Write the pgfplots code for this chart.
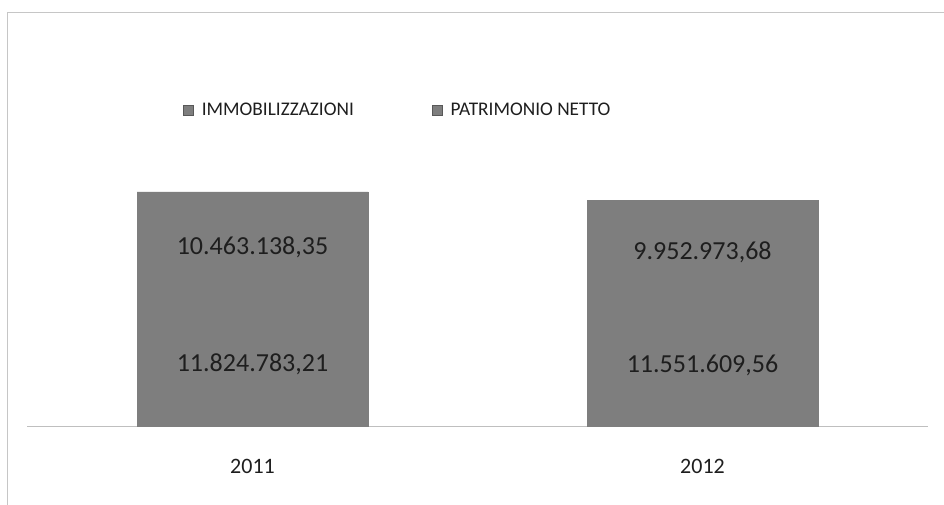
\documentclass[border=0pt]{standalone}
\usepackage{pgfplots}
\pgfplotsset{compat=1.18}
\usepackage{fontspec}
\setmainfont{Carlito}
\definecolor{barfill}{HTML}{7E7E7E}
\definecolor{txt}{HTML}{1E1E1E}
\pgfplotsset{common/.style={
  at={(27.5pt,79pt)}, anchor=south west,
  scale only axis, width=900pt, height=234pt,
  xmin=-0.5, xmax=1.5, ymin=0, ymax=22287921.56,
  clip=false}}
\begin{document}
\begin{tikzpicture}[x=1pt,y=1pt]
\useasboundingbox (0,0) rectangle (944,505);
\fill[white] (0,0) rectangle (944,505);
\draw[gray!45, line width=0.8pt] (7,0) -- (7,493) -- (944,493);
\begin{axis}[
  common,
  ybar stacked, bar width=231pt,
  axis x line*=bottom, axis y line=none,
  x axis line style={gray!50, line width=0.8pt, -},
  xtick=data, xticklabels={2011,2012},
  major tick length=0pt,
  xticklabel style={font=\fontsize{22}{26}\selectfont, text=txt, yshift=-30pt},
  ytick=\empty,
  legend style={at={(0.1728,1.35)}, anchor=west, draw=none, fill=none, inner sep=0pt, legend columns=2,
    font=\fontsize{19.3}{22}\selectfont, text=txt,
    /tikz/every even column/.append style={column sep=76pt}},
  legend image code/.code={\draw[#1, draw=barfill!70!black, fill=barfill] (0pt,-5pt) rectangle (10pt,5pt); \path (16pt,0pt);},
]
\addplot[fill=barfill, draw=barfill, line width=0.6pt] coordinates {(0,11824783.21) (1,11551609.56)};
\addlegendentry{IMMOBILIZZAZIONI}
\addplot[fill=barfill, draw=barfill, line width=0.6pt] coordinates {(0,10463138.35) (1,9952973.68)};
\addlegendentry{PATRIMONIO NETTO}
\end{axis}
\begin{axis}[
  common, hide axis,
  point meta=explicit symbolic,
  nodes near coords,
  every node near coord/.append style={font=\fontsize{26}{30}\selectfont, text=txt, anchor=center},
]
\addplot[only marks, mark=none] coordinates {(0,5912391.6) [11.824.783,21] (1,5775804.78) [11.551.609,56]};
\addplot[only marks, mark=none] coordinates {(0,17056352.39) [10.463.138,35] (1,16528096.4) [9.952.973,68]};
\end{axis}
\end{tikzpicture}
\end{document}
